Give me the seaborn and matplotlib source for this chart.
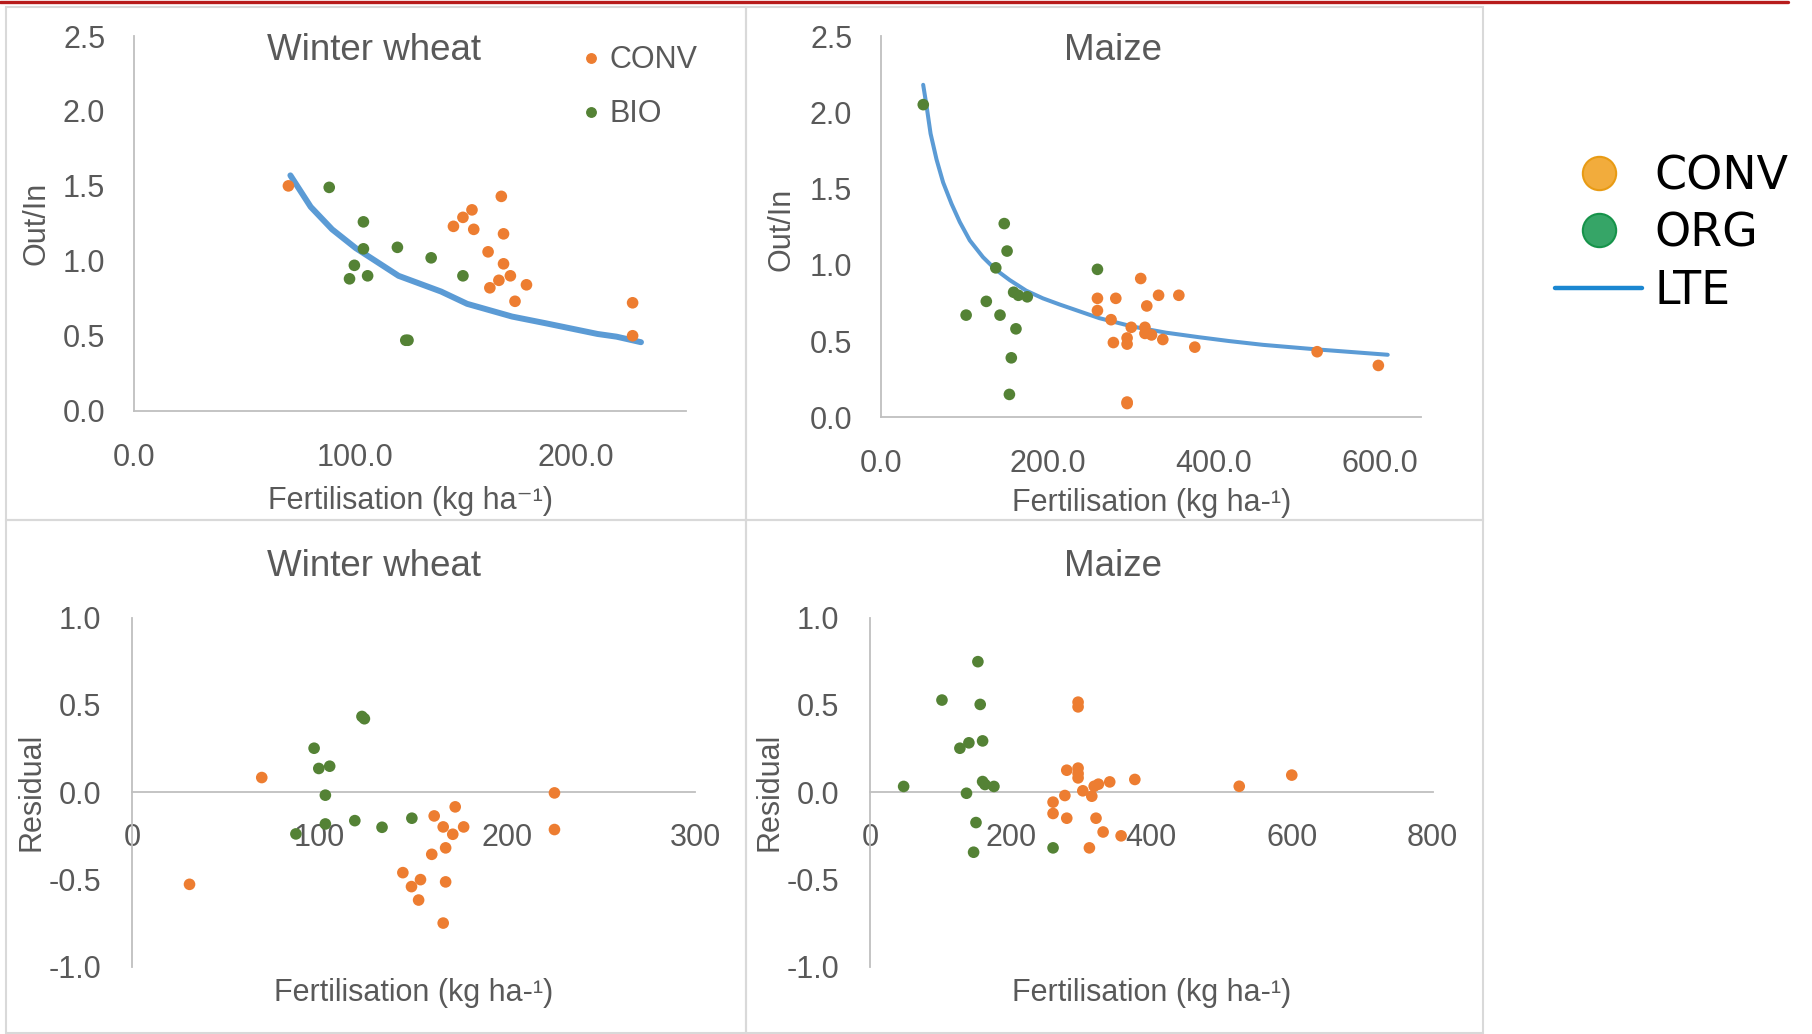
import matplotlib
matplotlib.use("Agg")
import pandas as pd
import seaborn as sns
import matplotlib.pyplot as plt
from matplotlib.lines import Line2D
from matplotlib.patches import Rectangle
from matplotlib.ticker import FormatStrFormatter, FixedLocator

# ---- Winter wheat: Out/In vs fertilisation
ww_conv_x = [69.8, 166.3, 153.0, 148.9, 144.6, 153.8, 167.3, 160.3, 167.3, 170.4, 165.2, 161.1, 177.7, 172.5, 225.8, 225.8]
ww_conv_y = [1.50, 1.43, 1.34, 1.29, 1.23, 1.21, 1.18, 1.06, 0.98, 0.90, 0.87, 0.82, 0.84, 0.73, 0.72, 0.50]
ww_bio_x = [88.3, 103.8, 103.8, 119.2, 134.5, 99.7, 97.5, 105.7, 148.9, 123.0, 124.0]
ww_bio_y = [1.49, 1.26, 1.08, 1.09, 1.02, 0.97, 0.88, 0.90, 0.90, 0.47, 0.47]
ww_lte_x = [70.7, 79.9, 89.6, 100.3, 119.7, 139.0, 150.8, 171.2, 186.2, 209.9, 218.5, 229.6]
ww_lte_y = [1.57, 1.36, 1.21, 1.085, 0.90, 0.795, 0.713, 0.628, 0.584, 0.512, 0.494, 0.457]

# ---- Maize: Out/In vs fertilisation
mz_conv_x = [312.2, 333.7, 358.1, 260.1, 282.2, 319.5, 260.1, 276.5, 300.8, 317.3, 317.3, 325.2, 338.8, 295.8, 295.8, 279.3, 377.3, 524.6, 598.3, 295.8, 295.8]
mz_conv_y = [0.91, 0.80, 0.80, 0.78, 0.78, 0.73, 0.70, 0.64, 0.59, 0.59, 0.55, 0.54, 0.51, 0.52, 0.48, 0.49, 0.46, 0.43, 0.34, 0.10, 0.09]
mz_bio_x = [50.4, 147.9, 151.3, 137.7, 260.1, 126.3, 159.2, 164.9, 175.6, 102.0, 142.8, 162.0, 156.4, 154.1]
mz_bio_y = [2.05, 1.27, 1.09, 0.98, 0.97, 0.76, 0.82, 0.80, 0.79, 0.67, 0.67, 0.58, 0.39, 0.15]
mz_lte_x = [50.3, 54.4, 59.2, 66.4, 74.3, 84.4, 94.4, 106.4, 122.3, 137.2, 154.4, 174.4, 194.4, 214.4,
            262.4, 302.4, 342.5, 382.5, 418.5, 459.5, 524.6, 609.6]
mz_lte_y = [2.18, 2.04, 1.86, 1.69, 1.54, 1.40, 1.28, 1.16, 1.05, 0.97, 0.90, 0.83, 0.78, 0.74,
            0.65, 0.595, 0.555, 0.525, 0.50, 0.475, 0.445, 0.41]

# ---- Winter wheat residuals
wr_conv_x = [69.1, 30.6, 225.1, 225.1, 172.2, 161.0, 165.8, 176.7, 170.9, 167.1, 159.7, 144.3, 153.7, 148.9, 167.1, 152.7, 165.8]
wr_conv_y = [0.084, -0.528, -0.004, -0.214, -0.084, -0.136, -0.199, -0.199, -0.241, -0.319, -0.356, -0.461, -0.501, -0.541, -0.514, -0.618, -0.750]
wr_bio_x = [122.5, 123.8, 97.0, 99.5, 105.3, 103.0, 103.0, 118.7, 133.2, 149.1, 87.3]
wr_bio_y = [0.434, 0.421, 0.252, 0.136, 0.149, -0.017, -0.182, -0.163, -0.201, -0.149, -0.239]

# ---- Maize residuals
mr_conv_x = [295.8, 295.8, 279.7, 295.8, 295.8, 295.8, 340.8, 376.5, 324.7, 318.7, 302.5, 277.0, 315.3,
             260.2, 260.2, 279.7, 321.3, 331.4, 357.0, 311.9, 525.0, 599.7]
mr_conv_y = [0.516, 0.489, 0.126, 0.138, 0.107, 0.082, 0.059, 0.073, 0.046, 0.034, 0.008, -0.019, -0.023,
             -0.057, -0.122, -0.149, -0.149, -0.228, -0.250, -0.319, 0.034, 0.098]
mr_bio_x = [153.3, 102.2, 156.6, 160.0, 140.5, 127.7, 47.7, 160.0, 163.4, 176.1, 137.1, 150.6, 147.2, 260.2]
mr_bio_y = [0.748, 0.528, 0.503, 0.294, 0.283, 0.252, 0.033, 0.061, 0.044, 0.033, -0.006, -0.174, -0.344, -0.319]

ORANGE = "#ED7D31"
GREEN = "#548235"
BLUE = "#5B9BD5"
TXT = "#595959"
AXC = "#BFBFBF"
pal = {"CONV": ORANGE, "BIO": GREEN}

sns.set_style("white")
plt.rcParams["font.family"] = ["Liberation Sans", "DejaVu Sans"]

W, H = 1812, 1034
fig = plt.figure(figsize=(W / 100, H / 100), dpi=100)


def frame(x):
    return pd.DataFrame({"fert": x[0] + x[2], "val": x[1] + x[3],
                         "system": ["CONV"] * len(x[0]) + ["BIO"] * len(x[2])})


def px_axes(l, r, t, b):
    return fig.add_axes([l / W, 1 - b / H, (r - l) / W, (b - t) / H])


# axes placed by pixel edges of the plot areas
ax1 = px_axes(134.4, 686, 36, 410.7)
ax2 = px_axes(881.4, 1421.3, 36, 417.3)
ax3 = px_axes(132.1, 695, 617.7, 966.7)
ax4 = px_axes(870.1, 1432.6, 617.7, 966.7)

panels = [
    (ax1, (ww_conv_x, ww_conv_y, ww_bio_x, ww_bio_y), (ww_lte_x, ww_lte_y), 4.3),
    (ax2, (mz_conv_x, mz_conv_y, mz_bio_x, mz_bio_y), (mz_lte_x, mz_lte_y), 2.9),
    (ax3, (wr_conv_x, wr_conv_y, wr_bio_x, wr_bio_y), None, 0),
    (ax4, (mr_conv_x, mr_conv_y, mr_bio_x, mr_bio_y), None, 0),
]

for ax, pts, lte, lw in panels:
    if lte is not None:
        sns.lineplot(x=lte[0], y=lte[1], ax=ax, color=BLUE, lw=lw, estimator=None, sort=False,
                     solid_capstyle="round", solid_joinstyle="round", zorder=2)
    sns.scatterplot(data=frame(pts), x="fert", y="val", hue="system", palette=pal, s=70,
                    linewidth=0, ax=ax, legend=False, zorder=3)
    for side in ["top", "right"]:
        ax.spines[side].set_visible(False)
    for side in ["left", "bottom"]:
        ax.spines[side].set_color(AXC)
        ax.spines[side].set_linewidth(1.3)
    ax.tick_params(colors=TXT, labelsize=22)
    ax.set_facecolor("none")

# top panels
ax1.set_xlim(0, 250)
ax1.xaxis.set_major_locator(FixedLocator([0, 100, 200]))
ax2.set_xlim(0, 650)
ax2.xaxis.set_major_locator(FixedLocator([0, 200, 400, 600]))
for ax in (ax1, ax2):
    ax.set_ylim(0, 2.5)
    ax.yaxis.set_major_locator(FixedLocator([0, 0.5, 1.0, 1.5, 2.0, 2.5]))
    ax.xaxis.set_major_formatter(FormatStrFormatter("%.1f"))
    ax.yaxis.set_major_formatter(FormatStrFormatter("%.1f"))
    ax.tick_params(axis="both", direction="out", length=8, width=1.3, color=AXC)
    ax.tick_params(axis="x", pad=15)
    ax.tick_params(axis="y", pad=13)
    ax.set_ylabel("Out/In", fontsize=22, color=TXT)

ax1.set_xlabel("Fertilisation (kg ha⁻¹)", fontsize=22, color=TXT)
ax2.set_xlabel("Fertilisation (kg ha-¹)", fontsize=22, color=TXT)

# residual panels
ax3.set_xlim(0, 300)
ax3.xaxis.set_major_locator(FixedLocator([0, 100, 200, 300]))
ax4.set_xlim(0, 800)
ax4.xaxis.set_major_locator(FixedLocator([0, 200, 400, 600, 800]))
for ax in (ax3, ax4):
    ax.set_ylim(-1, 1)
    ax.yaxis.set_major_locator(FixedLocator([-1.0, -0.5, 0.0, 0.5, 1.0]))
    ax.yaxis.set_major_formatter(FormatStrFormatter("%.1f"))
    ax.xaxis.set_major_formatter(FormatStrFormatter("%d"))
    ax.spines["bottom"].set_position(("data", 0))
    ax.tick_params(axis="both", length=0)
    ax.tick_params(axis="x", pad=22)
    ax.tick_params(axis="y", pad=22)
    ax.set_ylabel("Residual", fontsize=22, color=TXT)
    ax.set_xlabel("Fertilisation (kg ha-¹)", fontsize=22, color=TXT)

# label placement (axes fraction)
label_pos = {ax1: (-0.177, 0.5, -0.24), ax2: (-0.185, 0.494, -0.226),
             ax3: (-0.178, 0.5, -0.075), ax4: (-0.179, 0.5, -0.075)}
for ax, (yx, yy, xy) in label_pos.items():
    ax.yaxis.set_label_coords(yx, yy)
    ax.yaxis.label.set_va("center")
    ax.xaxis.set_label_coords(0.5, xy)
    ax.xaxis.label.set_va("center")

# titles centred on each chart area
for tx, ty, t in [(374, 50, "Winter wheat"), (1113, 50, "Maize"),
                  (374, 567, "Winter wheat"), (1113, 567, "Maize")]:
    fig.text(tx / W, 1 - ty / H, t, ha="center", va="center", fontsize=26.5, color=TXT)

# small legend in winter wheat panel
h_small = [Line2D([], [], marker="o", ls="", color=ORANGE, ms=6.8, label="CONV"),
           Line2D([], [], marker="o", ls="", color=GREEN, ms=6.8, label="BIO")]
ax1.legend(handles=h_small, loc="upper left", bbox_to_anchor=(0.812, 0.975), frameon=False,
           fontsize=22, labelcolor=TXT, handlelength=0.6, handletextpad=0.3,
           borderpad=0, borderaxespad=0, labelspacing=0.78)

# big legend on the right
h_big = [Line2D([], [], marker="o", ls="", ms=24, mfc="#F2AC3C", mec="#E89B14", mew=1.5, label="CONV"),
         Line2D([], [], marker="o", ls="", ms=24, mfc="#36A567", mec="#16934A", mew=1.5, label="ORG"),
         Line2D([], [], color="#1B87D1", lw=3.2, label="LTE")]
fig.legend(handles=h_big, loc="upper left", bbox_to_anchor=(1555 / W, 1 - 154 / H), frameon=False,
           prop={"family": ["DejaVu Sans"], "size": 33},
           labelcolor="black", handlelength=1.9, handletextpad=0.27, borderpad=0,
           borderaxespad=0, labelspacing=0.27)

# chart-area borders and red rule at the top
for (l, t, r, b) in [(6, 7, 746, 520), (746, 7, 1483, 520), (6, 520, 746, 1033), (746, 520, 1483, 1033)]:
    fig.add_artist(Rectangle((l / W, 1 - b / H), (r - l) / W, (b - t) / H, transform=fig.transFigure,
                             fill=False, ec="#D9D9D9", lw=1.5, zorder=0))
fig.add_artist(Line2D([0, 1788 / W], [1 - 1.5 / H, 1 - 1.5 / H], transform=fig.transFigure,
                      color="#B71C1C", lw=2.4))

fig.savefig("out.png", dpi=100, facecolor="white")
